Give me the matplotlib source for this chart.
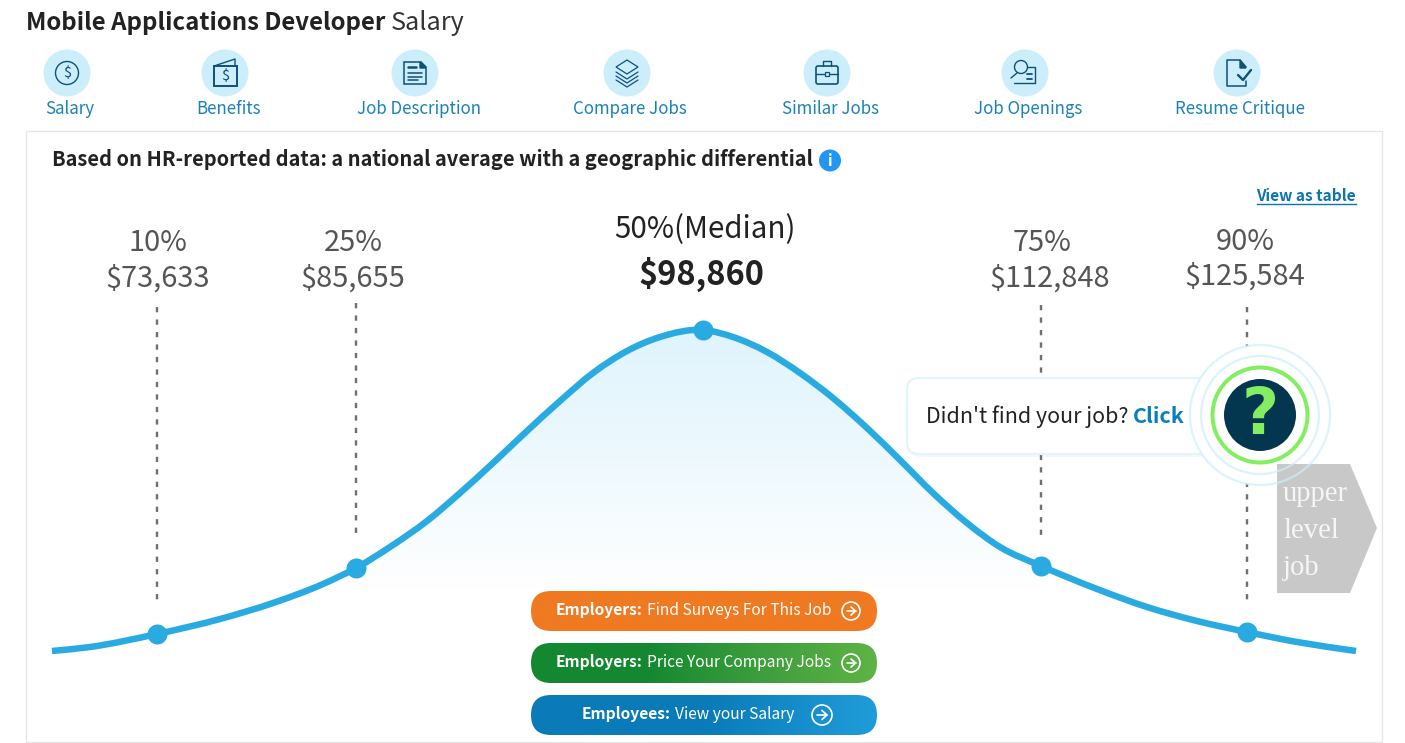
# plot.py
import numpy as np
from matplotlib import pyplot as plt
from matplotlib.colors import LinearSegmentedColormap
from matplotlib.patches import Circle, FancyBboxPatch, PathPatch, Polygon, Rectangle
from matplotlib.path import Path

plt.rcParams['font.family'] = ['Noto Sans CJK SC', 'DejaVu Sans']

# values, in picture pixels
curve_x = [52, 90, 157, 220, 273, 323, 356, 393, 427, 460, 493, 527, 560, 593, 627, 660, 703,
           733, 767, 800, 833, 867, 900, 933, 967, 1000, 1041, 1097, 1147, 1197, 1247, 1297, 1356]
curve_y = [651, 647, 634, 619, 603, 584, 568, 545, 521, 493, 463, 431, 401, 373, 351, 337, 330,
           337, 352, 373, 398, 428, 460, 493, 523, 547, 566, 589, 607, 621, 632, 642, 651]
marker_x = [157, 356, 703, 1041, 1247]
marker_y = [634, 568, 330, 566, 632]

percent_labels = ['10%', '25%', '75%', '90%']
salary_labels = ['$73,633', '$85,655', '$112,848', '$125,584']
median_label = '$98,860'

nav_labels = ['Salary', 'Benefits', 'Job Description', 'Compare Jobs',
              'Similar Jobs', 'Job Openings', 'Resume Critique']

BLUE = '#29abe2'
NAVY = '#0f4f7d'
LINK = '#1b82b8'


def px(size):
    # font size given in pixels
    return size * 0.72


fig = plt.figure(figsize=(14.05, 7.43), dpi=100)
ax = fig.add_axes([0, 0, 1, 1])
ax.axis('off')
renderer = fig.canvas.get_renderer()


def runs(x, y, parts, size, color, gap=4):
    # several text pieces on one baseline
    cur = x
    for text, weight, col in parts:
        t = ax.text(cur, y, text, fontsize=px(size), fontweight=weight, color=col or color,
                    va='baseline', ha='left', zorder=12)
        cur += t.get_window_extent(renderer).width + gap


def smooth_path(xs, ys):
    # hermite through the read points, as bezier segments
    x = np.array(xs, dtype=float)
    y = np.array(ys, dtype=float)
    m = np.gradient(y, x)
    verts = [(x[0], y[0])]
    codes = [Path.MOVETO]
    for i in range(len(x) - 1):
        d = (x[i + 1] - x[i]) / 3
        verts += [(x[i] + d, y[i] + m[i] * d), (x[i + 1] - d, y[i + 1] - m[i + 1] * d), (x[i + 1], y[i + 1])]
        codes += [Path.CURVE4] * 3
    return verts, codes


def gradient(colors, extent, clip, vertical=False, zorder=3):
    cmap = LinearSegmentedColormap.from_list('g', colors)
    g = np.linspace(0, 1, 256)
    g = g.reshape(-1, 1) if vertical else g.reshape(1, -1)
    im = ax.imshow(g, cmap=cmap, extent=extent, aspect='auto', origin='upper' if vertical else 'lower',
                   zorder=zorder, vmin=0, vmax=1)
    im.set_clip_path(clip)


def line(xs, ys, lw=1.0, color=NAVY, z=6):
    ax.plot(xs, ys, color=color, lw=lw, solid_capstyle='round', zorder=z)


def draw_icon(i, cx, cy):
    ax.add_patch(Circle((cx, cy), 23.5, fc='#cceefb', ec='none', zorder=5))
    if i == 0:
        ax.add_patch(Circle((cx, cy), 11.5, fc='none', ec=NAVY, lw=1.0, zorder=6))
        ax.text(cx, cy, '$', fontsize=10.5, color=NAVY, ha='center', va='center', zorder=6)
    elif i == 1:
        ax.add_patch(Rectangle((cx - 11, cy - 7), 23, 20, fc='none', ec=NAVY, lw=1.4, zorder=6))
        line([cx - 11, cx + 10, cx + 10], [cy - 7, cy - 14, cy - 7])
        ax.text(cx + 0.5, cy + 3, '$', fontsize=10.5, color=NAVY, ha='center', va='center', zorder=6)
    elif i == 2:
        ax.add_patch(Polygon([(cx - 11, cy - 11), (cx + 6, cy - 11), (cx + 11, cy - 6), (cx + 11, cy + 11),
                              (cx - 11, cy + 11)], fc='none', ec=NAVY, lw=1.1, zorder=6))
        ax.add_patch(Polygon([(cx + 5, cy - 11), (cx + 11, cy - 5), (cx + 5, cy - 5)], fc=NAVY, ec=NAVY, zorder=6))
        line([cx - 7, cx + 1], [cy - 6, cy - 6], lw=1.8)
        line([cx - 7, cx + 7], [cy, cy], lw=1.1)
        line([cx - 7, cx + 7], [cy + 3.5, cy + 3.5], lw=1.1)
        line([cx - 7, cx + 3], [cy + 7, cy + 7], lw=1.1)
    elif i == 3:
        ax.add_patch(Polygon([(cx, cy - 13), (cx + 11, cy - 6), (cx, cy + 1), (cx - 11, cy - 6)],
                             fc='none', ec=NAVY, lw=0.9, zorder=6))
        for d in (0, 4, 8):
            line([cx - 11, cx, cx + 11], [cy - 1 + d, cy + 6 + d, cy - 1 + d], lw=0.9)
    elif i == 4:
        ax.add_patch(FancyBboxPatch((cx - 11, cy - 7), 22, 18, boxstyle='round,pad=0,rounding_size=2',
                                    fc='none', ec=NAVY, lw=1.2, zorder=6))
        line([cx - 4, cx - 4, cx + 4, cx + 4], [cy - 7, cy - 12, cy - 12, cy - 7])
        line([cx - 11, cx + 11], [cy + 1, cy + 1])
        ax.add_patch(Rectangle((cx - 2, cy - 1), 4, 4, fc='#cceefb', ec=NAVY, lw=0.9, zorder=7))
    elif i == 5:
        ax.add_patch(Circle((cx - 4, cy - 6), 6.5, fc='none', ec=NAVY, lw=1.0, zorder=6))
        line([cx - 8, cx - 14], [cy, cy + 5])
        line([cx - 11, cx - 8, cx + 10, cx + 10, cx + 3], [cy + 10, cy + 10, cy + 10, cy - 6, cy - 6])
        line([cx + 2, cx + 7], [cy + 1, cy + 1], lw=1.3)
        line([cx + 2, cx + 7], [cy + 6, cy + 6], lw=1.3)
    else:
        line([cx + 9, cx + 3, cx - 10, cx - 10, cx + 9, cx + 9],
             [cy - 6, cy - 13, cy - 13, cy + 13, cy + 13, cy + 8], lw=1.1)
        ax.add_patch(Polygon([(cx + 3, cy - 13), (cx + 9, cy - 5), (cx + 3, cy - 5)], fc=NAVY, ec=NAVY, zorder=6))
        line([cx + 1, cx + 6, cx + 14], [cy + 2, cy + 7, cy - 3], lw=1.7)


def arrow_icon(cx, cy, r):
    ax.add_patch(Circle((cx, cy), r, fc='none', ec='white', lw=1.2, zorder=12))
    line([cx - r * 0.5, cx + r * 0.5], [cy, cy], lw=1.2, color='white', z=12)
    line([cx, cx + r * 0.5, cx], [cy - r * 0.45, cy, cy + r * 0.45], lw=1.2, color='white', z=12)


# header
ax.text(26, 30, 'Mobile Applications Developer', fontsize=px(24), fontweight='bold', color='#222222', va='baseline')
ax.text(391, 30, 'Salary', fontsize=px(25.2), color='#333333', va='baseline')

icon_x = [67, 225, 415, 627, 827, 1025, 1237]
label_x = [70, 229, 419, 630, 830, 1028, 1240]
for i, name in enumerate(nav_labels):
    draw_icon(i, icon_x[i], 73)
    ax.text(label_x[i], 114, name, fontsize=px(16.9), color=LINK, ha='center', va='baseline', zorder=6)

# card
ax.add_patch(Rectangle((26, 131), 1355.5, 611, fc='white', ec='#e6e6e6', lw=1, zorder=1))
ax.text(52, 166, 'Based on HR-reported data: a national average with a geographic differential',
        fontsize=px(20.08), fontweight='bold', color='#222222', va='baseline', zorder=6)
ax.add_patch(Circle((830, 160.5), 11, fc='#2196f3', ec='none', zorder=6))
ax.text(830, 160.5, 'i', fontsize=11, fontweight='bold', color='white', ha='center', va='center', zorder=7)
ax.text(1356, 201, 'View as table', fontsize=px(15.4), fontweight='bold', color='#0a75b0', ha='right',
        va='baseline', zorder=6)
ax.plot([1257, 1356], [204, 204], color='#0a75b0', lw=1, zorder=6)

# shaded area and curve
verts, codes = smooth_path(curve_x, curve_y)
lo = curve_x.index(marker_x[1])
hi = curve_x.index(marker_x[3])
v_mid = verts[lo * 3:hi * 3 + 1]
c_mid = [Path.MOVETO] + [Path.CURVE4] * (len(v_mid) - 1)
area = Path(v_mid + [(v_mid[-1][0], 590), (v_mid[0][0], 590), v_mid[0]],
            c_mid + [Path.LINETO, Path.LINETO, Path.CLOSEPOLY])
area_patch = PathPatch(area, transform=ax.transData, fc='none', ec='none')
ax.add_patch(area_patch)
gradient(['#dff4fd', '#eef9fe', '#ffffff'], (340, 1060, 590, 330), area_patch, vertical=True, zorder=2)

ax.add_patch(PathPatch(Path(verts, codes), fc='none', ec=BLUE, lw=px(6.5), capstyle='butt', zorder=4))

# percentile guides
guide_x = [157, 356, 1041, 1247]
guide_top = [307, 303, 305, 307]
guide_bot = [603, 537, 537, 603]
for gx, top, bot in zip(guide_x, guide_top, guide_bot):
    ax.plot([gx, gx], [top, bot], color='#707070', lw=px(2.4), ls=(0, (2.2, 3)), zorder=3)
ax.plot(marker_x, marker_y, ls='none', marker='o', ms=px(20), mfc=BLUE, mec='none', zorder=5)

pct_x = [158, 353, 1042, 1245]
pct_y = [251, 251, 251, 250]
sal_x = [158, 353, 1050, 1245]
sal_y = [287, 287, 287, 285]
for i in range(4):
    ax.text(pct_x[i], pct_y[i], percent_labels[i], fontsize=px(29), color='#555555', ha='center', va='baseline', zorder=6)
    ax.text(sal_x[i], sal_y[i], salary_labels[i], fontsize=px(29), color='#555555', ha='center', va='baseline', zorder=6)
ax.text(705, 238, '50%(Median)', fontsize=px(29.5), color='#222222', ha='center', va='baseline', zorder=6)
ax.text(701, 285, median_label, fontsize=px(32.7), fontweight='bold', color='#222222', ha='center', va='baseline', zorder=6)

# callout
ax.add_patch(FancyBboxPatch((908, 380), 310, 77, boxstyle='round,pad=0,rounding_size=12', fc='#000000',
                            ec='none', alpha=0.03, zorder=6))
ax.add_patch(FancyBboxPatch((907, 378), 310, 76, boxstyle='round,pad=0,rounding_size=12', fc='white',
                            ec='#e3f4fc', lw=1.6, zorder=7))
ax.add_patch(Circle((1260, 415), 70, fc='white', ec='none', zorder=8))
ax.add_patch(Polygon([(1277, 464), (1350, 464), (1377, 528), (1350, 593), (1277, 593)], fc='#c8c8c8', ec='none', zorder=9))
for t, y in zip(['upper', 'level', 'job'], [501, 538, 575]):
    ax.text(1283, y, t, fontsize=px(28.6), family='Liberation Serif', color='#f6f6f6', va='baseline', zorder=10)
ax.add_patch(Circle((1260, 415), 70, fc='none', ec='#cdeefb', lw=1.6, alpha=0.7, zorder=11))
ax.add_patch(Circle((1260, 415), 59, fc='none', ec='#cdeefb', lw=1.6, alpha=0.7, zorder=11))
ax.add_patch(Circle((1260, 415), 47.5, fc='none', ec='#84ee62', lw=px(4), zorder=11))
ax.add_patch(Circle((1260, 415), 36, fc='#03374f', ec='none', zorder=12))
ax.text(1260, 416, '?', fontsize=px(64), fontweight='bold', family='DejaVu Sans', color='#84ee62', ha='center', va='center', zorder=13)
runs(926, 423, [("Didn't find your job?", 'normal', '#222222'), ('Click', 'bold', '#0a7fc0')], 21.4, '#222222')

# buttons
btn_y = [591, 643, 695]
btn_colors = [['#ef7a22', '#ef7a22'], ['#138831', '#138831', '#3d9e3c', '#5fb346'], ['#0a7ab8', '#0a7ab8', '#1f9dd9']]
btn_text = [('Employers:', 'Find Surveys For This Job'), ('Employers:', 'Price Your Company Jobs'), ('Employees:', 'View your Salary')]
btn_tx = [556, 556, 582]
btn_ic = [(851, 9), (851, 9), (822, 10)]
for i in range(3):
    box = FancyBboxPatch((531, btn_y[i]), 346, 40, boxstyle='round,pad=0,rounding_size=20', fc='none', ec='none', zorder=3)
    ax.add_patch(box)
    gradient(btn_colors[i], (531, 877, btn_y[i] + 40, btn_y[i]), box, zorder=10)
    runs(btn_tx[i], btn_y[i] + 24, [(btn_text[i][0], 'bold', 'white'), (btn_text[i][1], 'normal', 'white')], 15.6, 'white')
    arrow_icon(btn_ic[i][0], btn_y[i] + 20, btn_ic[i][1])

ax.set_xlim(0, 1405)
ax.set_ylim(743, 0)
fig.savefig('out.png', dpi=100, facecolor='white')
